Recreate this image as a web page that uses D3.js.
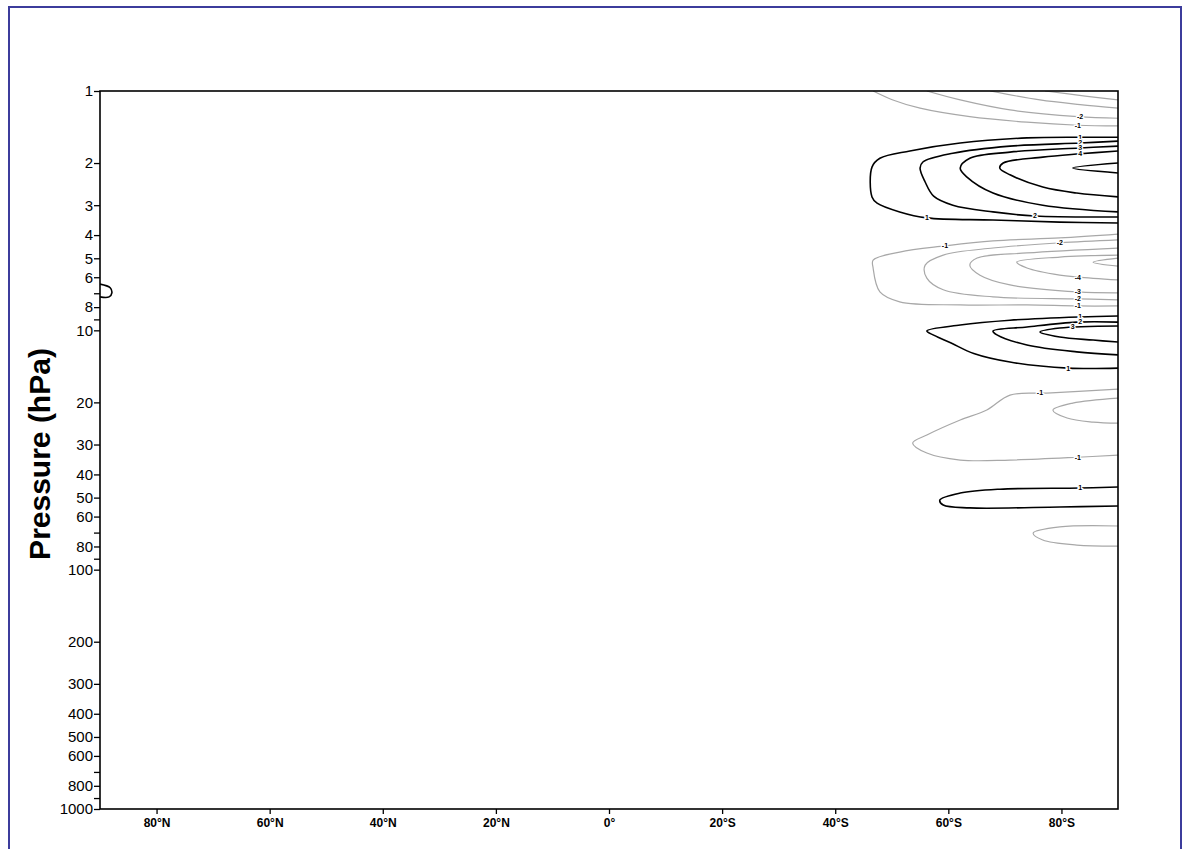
<!DOCTYPE html>
<html><head><meta charset="utf-8">
<script src="https://cdn.jsdelivr.net/npm/d3@7"></script>
<style>
body{margin:0;background:#fff;}
svg{display:block;font-family:Arial,"Liberation Sans",sans-serif;}
</style></head>
<body><svg id="chart" width="1188" height="849"></svg>
<script>
// ---- data ----
const latTicks = [-80,-60,-40,-20,0,20,40,60,80];
const latTickLabels = ["80°N","60°N","40°N","20°N","0°","20°S","40°S","60°S","80°S"];
const presTicks = [1,2,3,4,5,6,7,8,9,10,20,30,40,50,60,70,80,90,100,200,300,400,500,600,700,800,900,1000];
const presLabels = [1,2,3,4,5,6,8,10,20,30,40,50,60,80,100,200,300,400,500,600,800,1000];
const yTitle = "Pressure (hPa)";

// contour lines: [lat (negative = N, positive = S), pressure hPa]
const topNeg1 = [[46.7,1.00],[50.2,1.09],[55.0,1.18],[63.8,1.28],[73.9,1.35],[82.9,1.39],[90,1.40]];
const topNeg2 = [[56.2,1.00],[62.1,1.09],[70.9,1.20],[82.9,1.28],[90,1.30]];
const topNeg3 = [[67.4,1.00],[76.2,1.09],[83.3,1.14],[90,1.18]];
const topNeg4 = [[77.1,1.00],[84.2,1.05],[90,1.09]];
const upPos1 = [[90,1.56],[83.3,1.56],[73.9,1.57],[62.1,1.65],[53.2,1.78],[47.9,1.91],[46.5,2.08],[46.5,2.77],[47.4,2.94],[51.4,3.20],[56.2,3.39],[67.9,3.46],[79.7,3.53],[90,3.56]];
const upPos2 = [[90,1.62],[83.3,1.65],[70.9,1.70],[60.8,1.82],[55.5,1.98],[55.0,2.10],[55.9,2.40],[57.4,2.75],[60.8,3.00],[67.9,3.20],[75.3,3.33],[90,3.36]];
const upPos3 = [[90,1.70],[83.3,1.73],[70.9,1.80],[63.8,1.91],[62.1,2.10],[63.3,2.29],[67.9,2.67],[76.7,3.00],[90,3.20]];
const upPos4 = [[90,1.78],[83.3,1.83],[76.7,1.89],[69.7,2.00],[69.1,2.10],[70.9,2.24],[76.7,2.52],[82.7,2.67],[90,2.77]];
const upPos5 = [[90,2.00],[82.0,2.10],[90,2.20]];
const midNeg1 = [[90,3.96],[79.7,4.11],[67.9,4.23],[59.4,4.44],[51.4,4.71],[46.7,5.09],[46.7,5.49],[47.9,6.91],[51.4,7.60],[62.1,7.83],[73.9,7.83],[82.9,7.91],[90,7.91]];
const midNeg2 = [[90,4.19],[79.7,4.31],[67.9,4.53],[59.1,4.85],[55.9,5.34],[56.2,6.05],[59.1,6.77],[67.9,7.25],[82.9,7.39],[90,7.46]];
const midNeg3 = [[90,4.53],[73.9,4.75],[65.1,4.99],[63.8,5.34],[65.6,5.88],[70.9,6.46],[82.9,6.91],[90,6.97]];
const midNeg4 = [[90,4.85],[79.7,4.94],[72.1,5.19],[73.9,5.49],[79.7,5.88],[82.9,5.99],[90,6.16]];
const midNeg5 = [[90,4.99],[85.6,5.19],[90,5.39]];
const midPos1 = [[90,8.71],[83.3,8.79],[70.9,9.07],[62.1,9.50],[56.2,10.06],[57.5,10.50],[60.5,11.30],[64.5,12.50],[70.9,13.57],[81.2,14.38],[90,14.38]];
const midPos2 = [[90,9.24],[82.7,9.24],[73.9,9.68],[67.9,10.06],[68.6,10.45],[73.9,11.51],[82.7,12.30],[90,12.66]];
const midPos3 = [[90,9.59],[79.7,9.78],[76.2,10.16],[79.7,10.66],[85.6,10.98],[90,11.19]];
const lowNeg1 = [[90,17.6],[77.4,18.28],[70.9,18.64],[66.8,21.53],[62.1,23.71],[56.2,27.39],[53.7,29.58],[56.2,32.57],[62.1,34.83],[70.9,34.83],[82.9,33.9],[90,33.2]];
const lowNeg2 = [[90,19.18],[82.0,20.13],[78.5,21.53],[81.0,23.25],[85.6,24.18],[90,24.42]];
const lowPos1 = [[90,45.17],[83.3,45.6],[69.1,46.1],[62.1,47.86],[58.5,51.2],[59.1,53.7],[63.8,55.2],[79.7,54.7],[90,54.2]];
const botNeg1 = [[90,65.7],[79.7,66.3],[75.0,70.3],[76.7,75.2],[82.7,78.9],[90,79.7]];
const northPos1 = [[-90,6.41],[-88.2,6.64],[-87.9,6.97],[-88.4,7.25],[-90,7.25]];

const contourLines = [topNeg1,topNeg2,topNeg3,topNeg4,upPos1,upPos2,upPos3,upPos4,upPos5,
  midNeg1,midNeg2,midNeg3,midNeg4,midNeg5,midPos1,midPos2,midPos3,lowNeg1,lowNeg2,lowPos1,botNeg1,northPos1];
const contourLevels = [-1,-2,-3,-4,1,2,3,4,5,-1,-2,-3,-4,-5,1,2,3,-1,-2,1,-1,1];

// contour labels: [text, lat, pressure]
const contourLabels = [
  ["-2",83.3,1.28],["-1",82.9,1.39],
  ["1",83.3,1.56],["2",83.3,1.64],["3",83.3,1.73],["4",83.3,1.83],["1",56.2,3.39],["2",75.3,3.33],
  ["-1",59.4,4.44],["-2",79.7,4.31],["-4",82.9,5.99],["-3",82.9,6.91],["-2",82.9,7.39],["-1",82.9,7.91],
  ["1",83.3,8.72],["2",83.3,9.15],["3",82.0,9.62],["1",81.2,14.38],
  ["-1",76.2,18.28],["-1",82.9,33.9],["1",83.3,45.6]
];

// ---- drawing ----
const svg = d3.select("#chart");
const L = 100, R = 1118, T = 91, B = 809;
const x = d3.scaleLinear().domain([-90, 90]).range([L, R]);
const y = d3.scaleLog().domain([1, 1000]).range([T, B]);

svg.append("rect").attr("width",1188).attr("height",849).attr("fill","#fff");
// outer frame
svg.append("rect").attr("x",9).attr("y",7).attr("width",1172).attr("height",860)
  .attr("fill","none").attr("stroke","#3c3c9c").attr("stroke-width",2);

svg.append("clipPath").attr("id","clip").append("rect")
  .attr("x",L).attr("y",T).attr("width",R-L).attr("height",B-T);

const line = d3.line().x(d => x(d[0])).y(d => y(d[1])).curve(d3.curveCatmullRom.alpha(0.5));
const g = svg.append("g").attr("clip-path","url(#clip)");
contourLines.forEach((pts, i) => {
  const lv = contourLevels[i];
  g.append("path").attr("d", line(pts)).attr("fill","none")
    .attr("stroke", lv < 0 ? "#a8a8a8" : "#000")
    .attr("stroke-width", lv < 0 ? 1.2 : 1.6)
    .attr("stroke-linejoin","round");
});
g.selectAll("text.cl").data(contourLabels).join("text").attr("class","cl")
  .attr("x", d => x(d[1])).attr("y", d => y(d[2]))
  .attr("dy","0.35em").attr("text-anchor","middle")
  .attr("font-size",7).attr("font-weight","bold")
  .attr("stroke","#fff").attr("stroke-width",2.5).attr("paint-order","stroke")
  .attr("fill","#000").text(d => d[0]);

// axes
const xAxis = d3.axisBottom(x).tickValues(latTicks)
  .tickFormat((d,i) => latTickLabels[i]).tickSize(5).tickPadding(4);
const gx = svg.append("g").attr("transform",`translate(0,${B})`).call(xAxis);
gx.select(".domain").remove();
gx.selectAll("line").attr("stroke","#000").attr("stroke-width",1.3);
gx.selectAll("text").attr("font-size",12).attr("font-weight","bold").attr("fill","#000")
  .attr("font-family","Arial, 'Liberation Sans', sans-serif");

const yAxis = d3.axisLeft(y).tickValues(presTicks)
  .tickFormat(d => presLabels.includes(d) ? String(d) : "").tickSize(6).tickPadding(1);
const gy = svg.append("g").attr("transform",`translate(${L},0)`).call(yAxis);
gy.select(".domain").remove();
gy.selectAll("line").attr("stroke","#000").attr("stroke-width",1.3);
gy.selectAll("text").attr("font-size",15).attr("fill","#000")
  .attr("font-family","Arial, 'Liberation Sans', sans-serif");

// plot box
svg.append("rect").attr("x",L).attr("y",T).attr("width",R-L).attr("height",B-T)
  .attr("fill","none").attr("stroke","#000").attr("stroke-width",1.6);

svg.append("text").attr("transform",`translate(50,454) rotate(-90)`)
  .attr("text-anchor","middle").attr("font-size",30).attr("font-weight","bold")
  .attr("fill","#000").text(yTitle);
</script></body></html>
